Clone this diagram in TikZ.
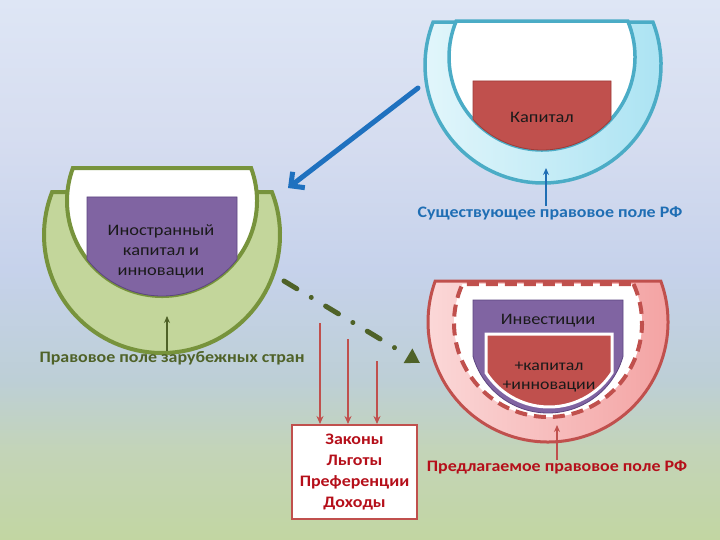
\documentclass[tikz,border=0pt]{standalone}
\usepackage{fontspec}
\setmainfont{Carlito}[FakeStretch=1.12]
\newfontfamily\shapefont{Carlito}[FakeStretch=1.15]
\usetikzlibrary{arrows.meta}
\definecolor{bluestroke}{HTML}{4BACC6}
\definecolor{blueL}{HTML}{E2F6FB}
\definecolor{blueR}{HTML}{A8E2F2}
\definecolor{capred}{HTML}{C0504D}
\definecolor{capreddark}{HTML}{9E3B38}
\definecolor{greenstroke}{HTML}{77933C}
\definecolor{greenfill}{HTML}{C3D69B}
\definecolor{purplefill}{HTML}{8064A2}
\definecolor{purpledark}{HTML}{5C4580}
\definecolor{pinkL}{HTML}{FBD8D8}
\definecolor{pinkR}{HTML}{F3A0A0}
\definecolor{lblblue}{HTML}{1F6EB4}
\definecolor{arrblue}{HTML}{1F71BF}
\definecolor{lblgreen}{HTML}{4F6228}
\definecolor{lblred}{HTML}{B50F1A}
\definecolor{txtdark}{HTML}{1A1A1A}
\definecolor{bgA}{HTML}{DEE6F5}
\definecolor{bgB}{HTML}{D6DDF0}
\definecolor{bgC}{HTML}{C6D2EB}
\definecolor{bgD}{HTML}{BDCFD6}
\definecolor{bgE}{HTML}{C3D4B8}
\definecolor{bgF}{HTML}{C2D6A2}
\pgfdeclareverticalshading{bgshade}{100bp}{color(0bp)=(bgF); color(25bp)=(bgF); color(33.3bp)=(bgE); color(39.8bp)=(bgD); color(50bp)=(bgC); color(62.5bp)=(bgB); color(75bp)=(bgA); color(100bp)=(bgA)}
% bowl: circle (#2,#3) radius #4 cut by a chord at y=#5
\newcommand\bowlshape[5]{%
  \pgfmathsetmacro\bwA{asin((#3-#5)/#4)}%
  \path[#1] (#2,#3) ++(-\bwA:#4) arc[start angle=-\bwA, end angle=180+\bwA, radius=#4] -- cycle;}
% cup: rectangle (centre #2, half width #5, top #6) cut by circle (#2,#3) radius #4
\newcommand\cupshape[6]{%
  \pgfmathsetmacro\cpB{acos(#5/#4)}%
  \pgfmathsetmacro\cpY{#3+sqrt(#4*#4-#5*#5)}%
  \path[#1] (#2-#5,#6) -- (#2+#5,#6) -- (#2+#5,\cpY) arc[start angle=\cpB, end angle=180-\cpB, radius=#4] -- cycle;}
\tikzset{
  intext/.style={text=txtdark, font=\shapefont\fontsize{16}{20}\selectfont, align=center, inner sep=0pt},
  lbl/.style={font=\bfseries\fontsize{16}{20}\selectfont, inner sep=0pt},
  boxnode/.style={draw=capred, line width=2pt, fill=white, minimum width=125pt, minimum height=94pt, align=center, text=lblred, font=\bfseries\fontsize{16}{21}\selectfont},
  uparrow/.style={line width=1.8pt, -{Stealth[length=7pt,width=6pt]}},
  downarrow/.style={draw=capred, line width=2.2pt, -{Stealth[length=8pt,width=7pt]}}
}
\begin{document}
\begin{tikzpicture}[x=1pt,y=-1pt]
\useasboundingbox (0,0) rectangle (720,540);
\shade[shading=bgshade] (0,0) rectangle (720,540);

% ---------- blue (existing) ----------
\bowlshape{draw=bluestroke, line width=3.5pt, left color=blueL, right color=blueR}{543}{65}{118}{22}
\bowlshape{draw=bluestroke, line width=3.5pt, fill=white}{542}{57}{93}{21}
\cupshape{draw=capreddark, line width=0.8pt, fill=capred}{542}{57}{93}{69}{81}
\node[intext] (kap) at (542,117) {Капитал};
\coordinate (blueBottom) at (546,168);

% ---------- green (foreign) ----------
\bowlshape{draw=greenstroke, line width=4pt, fill=greenfill}{162}{235}{118}{192}
\bowlshape{draw=greenstroke, line width=4pt, fill=white}{162}{201}{95}{168}
\cupshape{draw=purpledark, line width=0.8pt, fill=purplefill}{162}{201}{95}{75}{197}
\node[intext] (forcap) at (161,251) {Иностранный\\капитал и\\инновации};
\coordinate (greenBottom) at (167,316);

% ---------- red (proposed) ----------
\bowlshape{draw=capred, line width=3pt, left color=pinkL, right color=pinkR}{548}{322}{120}{281}
\bowlshape{draw=capred, line width=4pt, fill=white, dash pattern=on 12pt off 7pt}{548}{323}{94}{284}
\cupshape{draw=purpledark, line width=0.8pt, fill=purplefill}{548}{335}{78}{75}{300}
\cupshape{draw=white, line width=3pt, fill=capred}{549}{332}{75}{63}{334}
\node[intext] (inv) at (548,321) {Инвестиции};
\node[intext, font=\shapefont\fontsize{15.5}{19}\selectfont] (plus) at (549,377) {+капитал\\+инновации};
\coordinate (redBottom) at (557,425);

% ---------- labels ----------
\node[lbl, text=lblblue] (lblBlue) at (550,213) {Существующее правовое поле РФ};
\node[lbl, text=lblgreen] (lblGreen) at (172,358) {Правовое поле зарубежных стран};
\node[lbl, text=lblred] (lblRed) at (557,467) {Предлагаемое правовое поле РФ};

\draw[uparrow, draw=lblblue] (lblBlue.north -| blueBottom) -- (blueBottom);
\draw[uparrow, draw=lblgreen] (lblGreen.north -| greenBottom) -- (greenBottom);
\draw[uparrow, draw=capred] (lblRed.north -| redBottom) -- (redBottom);

% ---------- main arrows ----------
\coordinate (bStart) at (418,88);
\coordinate (bEnd) at (288,188);
\draw[draw=arrblue, line width=5pt, line cap=round, -{Straight Barb[length=10pt,width=20pt,line width=5pt]}] (bStart) -- (bEnd);

\coordinate (gStart) at (284,281);
\coordinate (gEnd) at (420,363);
\draw[draw=lblgreen, line width=5pt, line cap=round, dash pattern=on 15pt off 16.8pt on 0.01pt off 16.8pt, -{Triangle[length=14pt,width=16pt]}] (gStart) -- (gEnd);

% ---------- box ----------
\node[boxnode] (box) at (354.5,472) {Законы\\Льготы\\Преференции\\Доходы};
\coordinate (r1) at (320,323);
\coordinate (r2) at (348,339);
\coordinate (r3) at (377,361);
\draw[downarrow] (r1) -- (r1 |- box.north);
\draw[downarrow] (r2) -- (r2 |- box.north);
\draw[downarrow] (r3) -- (r3 |- box.north);
\end{tikzpicture}
\end{document}
